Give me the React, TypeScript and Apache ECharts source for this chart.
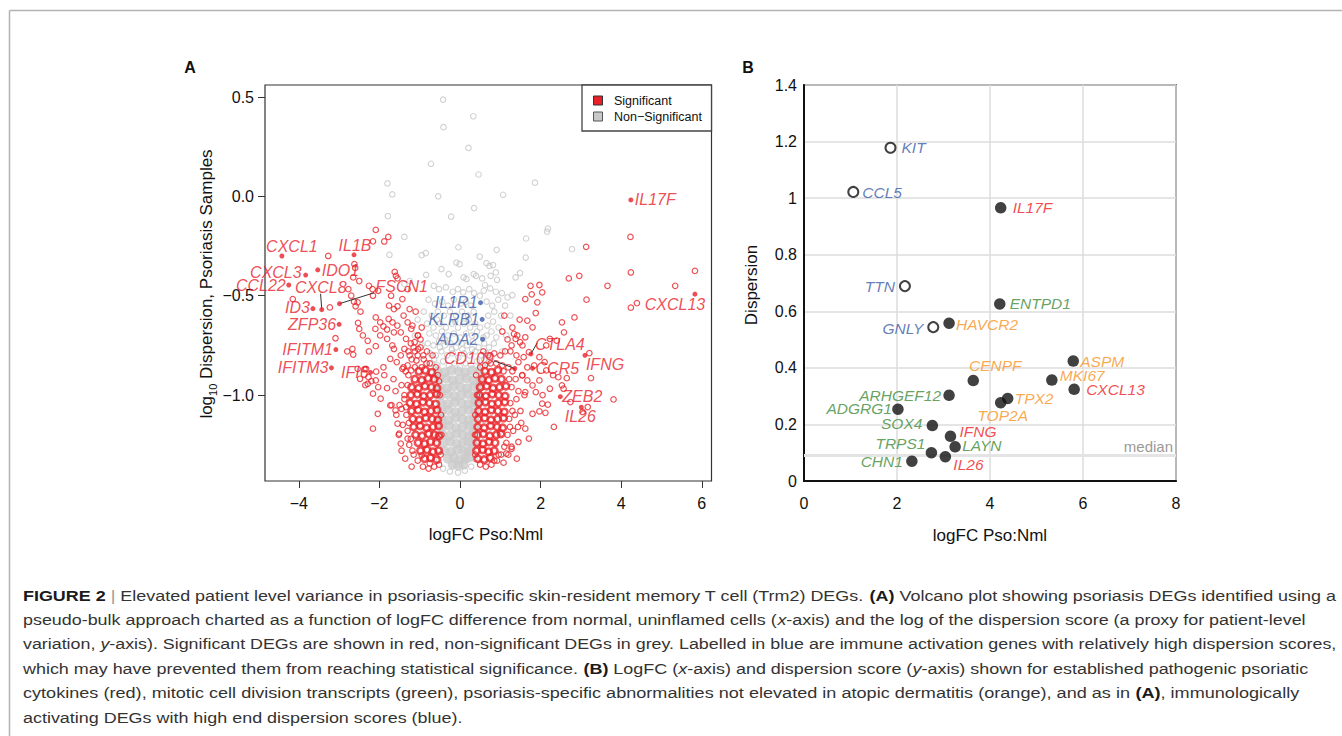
import React, { useEffect, useRef } from "react";
import * as echarts from "echarts";

const FONT = "'Liberation Sans', Arial, Helvetica, sans-serif";
const CAP_FONT = "'Liberation Sans', Arial, Helvetica, sans-serif";

// ---------------- Panel A data ----------------
const A_X_TICKS = [-4, -2, 0, 2, 4, 6];
const A_Y_TICKS = [-1, -0.5, 0, 0.5];

// non-significant genes, sparse (hollow grey)
const A_NS_SPARSE: number[][] = [
  [-0.42, 0.487], [0.33, 0.403], [-0.41, 0.348], [0.21, 0.244], [-0.72, 0.164], [0.46, 0.11], [-1.8, 0.065],
  [1.86, 0.069], [-1.68, 0.01], [-0.54, 0.0], [1.07, 0.008], [0.35, -0.059], [-1.79, -0.099], [-0.22, -0.102],
  [-1.38, -0.204], [2.18, -0.162], [2.16, -0.177], [1.64, -0.212], [-1.75, -0.294], [2.78, -0.266], [-0.95, -0.296],
  [-0.85, -0.286], [-0.04, -0.256], [0.91, -0.269], [1.63, -0.308], [0.49, -0.303], [-0.09, -0.333], [-0.01, -0.341],
  [0.66, -0.336], [0.73, -0.35], [0.82, -0.346], [-0.46, -0.366], [-0.28, -0.391], [-0.84, -0.395], [0.09, -0.408],
  [0.16, -0.416], [0.34, -0.391], [0.4, -0.4], [0.55, -0.413], [0.76, -0.4], [0.89, -0.383], [0.92, -0.42],
  [0.62, -0.446], [1.38, -0.408], [1.49, -0.386], [-1.38, -0.441], [-1.25, -0.426], [-0.65, -0.45], [-0.52, -0.467],
  [-0.35, -0.458], [-0.18, -0.48], [-0.05, -0.467], [0.08, -0.483], [0.23, -0.467], [0.35, -0.487], [0.49, -0.5],
  [0.59, -0.475], [0.75, -0.463], [0.89, -0.48], [1.04, -0.487], [1.18, -0.508], [1.3, -0.497],
  [-0.78, -0.52], [-0.62, -0.54], [-0.44, -0.53], [-0.3, -0.55], [-0.15, -0.52], [0.02, -0.54], [0.15, -0.53],
  [0.28, -0.55], [0.66, -0.53], [0.8, -0.55], [0.95, -0.52], [1.12, -0.55],
  [-0.9, -0.58], [-0.7, -0.6], [-0.55, -0.58], [-0.4, -0.6], [-0.25, -0.58], [-0.1, -0.6], [0.05, -0.58],
  [0.2, -0.6], [0.34, -0.58], [0.7, -0.6], [0.85, -0.58], [1.02, -0.6],
  [-0.82, -0.64], [-0.66, -0.66], [-0.5, -0.64], [-0.35, -0.66], [-0.2, -0.64], [-0.05, -0.66], [0.1, -0.64],
  [0.25, -0.66], [0.38, -0.64], [0.68, -0.65], [0.82, -0.63], [0.96, -0.66],
  [-0.76, -0.69], [-0.6, -0.7], [-0.45, -0.68], [-0.3, -0.7], [-0.15, -0.69], [0.0, -0.71], [0.15, -0.69],
  [0.3, -0.7], [0.42, -0.68], [0.66, -0.7], [0.78, -0.68], [0.9, -0.71],
  [-0.8, -0.74], [-0.66, -0.75], [-0.52, -0.73], [-0.38, -0.75], [-0.24, -0.74], [-0.1, -0.76], [0.04, -0.74],
  [0.18, -0.75], [0.32, -0.73], [0.46, -0.76], [0.6, -0.74], [0.72, -0.76], [0.84, -0.74],
  [-0.74, -0.79], [-0.6, -0.8], [-0.46, -0.78], [-0.32, -0.8], [-0.18, -0.79], [-0.04, -0.81], [0.1, -0.79],
  [0.24, -0.8], [0.38, -0.78], [0.52, -0.8], [0.66, -0.79], [0.78, -0.81],
  [-0.7, -0.84], [-0.56, -0.85], [-0.42, -0.83], [-0.28, -0.85], [-0.14, -0.84], [0.0, -0.86], [0.14, -0.84],
  [0.28, -0.85], [0.42, -0.83], [0.56, -0.85], [0.68, -0.84],
  [-0.57, -0.62], [-0.12, -0.63], [0.22, -0.62], [0.5, -0.66], [0.58, -0.71], [-0.38, -0.72], [0.06, -0.77],
  [-0.64, -0.82], [0.6, -0.82], [0.3, -0.77], [-0.2, -0.77], [-0.5, -0.76], [1.25, -0.6], [1.15, -0.7],
  [-1.05, -0.62], [-1.12, -0.7], [-0.95, -0.75], [1.05, -0.78],
  [-0.42, -1.37], [-0.25, -1.385], [-0.05, -1.39], [0.12, -1.38], [0.28, -1.36], [-0.52, -1.33], [0.36, -1.32],
  [-0.62, -0.9], [0.64, -0.9], [-0.6, -1.0], [0.55, -1.02], [-0.58, -1.12], [0.5, -1.14], [-0.56, -1.22], [0.45, -1.24],
];

// non-significant genes, dense core (filled grey)
const A_NS_CORE: number[][] = [
  [-0.55, -0.88], [-0.38, -0.885], [-0.21, -0.875], [-0.04, -0.88], [0.13, -0.885], [0.3, -0.875], [0.47, -0.88],
  [-0.52, -0.92], [-0.35, -0.915], [-0.18, -0.925], [-0.01, -0.92], [0.16, -0.915], [0.33, -0.925], [0.5, -0.92],
  [-0.5, -0.96], [-0.33, -0.965], [-0.16, -0.955], [0.01, -0.96], [0.18, -0.965], [0.35, -0.955], [0.48, -0.96],
  [-0.48, -1.0], [-0.31, -0.995], [-0.14, -1.005], [0.03, -1.0], [0.2, -0.995], [0.36, -1.005], [0.45, -1.0],
  [-0.47, -1.04], [-0.3, -1.045], [-0.13, -1.035], [0.04, -1.04], [0.21, -1.045], [0.36, -1.035], [0.44, -1.04],
  [-0.46, -1.08], [-0.29, -1.075], [-0.12, -1.085], [0.05, -1.08], [0.22, -1.075], [0.37, -1.085],
  [-0.45, -1.12], [-0.28, -1.125], [-0.11, -1.115], [0.06, -1.12], [0.22, -1.125], [0.36, -1.115],
  [-0.44, -1.16], [-0.27, -1.155], [-0.1, -1.165], [0.07, -1.16], [0.22, -1.155], [0.35, -1.165],
  [-0.43, -1.2], [-0.26, -1.205], [-0.09, -1.195], [0.07, -1.2], [0.22, -1.205], [0.33, -1.195],
  [-0.41, -1.24], [-0.24, -1.235], [-0.08, -1.245], [0.07, -1.24], [0.21, -1.235], [0.32, -1.245],
  [-0.38, -1.28], [-0.22, -1.285], [-0.06, -1.275], [0.08, -1.28], [0.2, -1.285], [0.28, -1.275],
  [-0.3, -1.32], [-0.15, -1.315], [-0.01, -1.325], [0.13, -1.32], [0.22, -1.315],
  [-0.18, -1.35], [-0.04, -1.355], [0.09, -1.35],
];

// significant genes, sparse (hollow red)
const A_SIG_SPARSE: number[][] = [
  [-2.09, -0.169], [-2.16, -0.226], [-1.88, -0.227], [-1.78, -0.204], [-3.27, -0.3], [-2.62, -0.341], [-2.65, -0.408],
  [-2.5, -0.426], [-2.77, -0.467], [-2.7, -0.5], [-3.23, -0.559], [-4.15, -0.517], [-1.62, -0.38], [-1.59, -0.4],
  [-1.55, -0.413], [-2.26, -0.45], [-2.17, -0.467], [-2.16, -0.5], [-2.03, -0.475], [-2.63, -0.53], [-2.59, -0.553],
  [-2.47, -0.58], [-2.54, -0.533], [-1.71, -0.5], [-1.76, -0.55], [-1.55, -0.553], [-2.09, -0.609], [-1.98, -0.634],
  [-2.1, -0.667], [-1.9, -0.654], [-1.77, -0.617], [-2.53, -0.637], [-2.5, -0.667], [-2.41, -0.7], [-3.09, -0.714],
  [-2.29, -0.727], [-2.26, -0.78], [-2.09, -0.754], [-1.98, -0.7], [-1.81, -0.67], [-2.8, -0.78], [-2.67, -0.768],
  [-2.65, -0.796], [-2.54, -0.868], [-2.33, -0.868], [-2.48, -0.918], [-2.29, -0.943], [-2.09, -0.926], [-2.03, -0.96],
  [-2.16, -0.993], [-1.97, -1.018], [-1.81, -0.965], [-2.04, -1.094], [-2.16, -1.169], [-1.9, -0.86], [-1.73, -0.818],
  [-1.64, -0.768], [-1.88, -0.9], [-1.55, -1.144], [-1.51, -1.194], [-1.47, -1.244], [-1.3, -1.219], [-1.73, -1.052],
  [-1.6, -1.077], [-1.45, -1.069], [-1.38, -1.0], [-0.75, -1.344], [-0.95, -1.303], [-1.675, -0.634], [-1.555, -0.65],
  [-1.4, -0.6], [-1.3, -0.634], [-1.47, -0.684], [-1.34, -0.717], [-1.21, -0.667], [-1.125, -0.734], [-1.04, -0.7],
  [-1.64, -0.684], [-1.81, -0.717], [-1.68, -0.75], [-1.38, -0.768], [-1.25, -0.8], [-1.04, -0.768], [-0.91, -0.8],
  [-1.47, -0.8], [-1.57, -0.834], [-1.43, -0.868], [-1.3, -0.851], [-1.21, -0.876], [-1.08, -0.826], [-0.95, -0.86],
  [-1.3, -0.467], [-1.43, -0.517], [-1.25, -0.567], [-1.64, -0.567], [-2.37, -0.87], [-2.27, -0.91], [-2.35, -0.95],
  [-2.2, -0.93], [-2.08, -0.882], [-2.6, -0.36],
  [-1.1, -0.58], [-1.18, -0.65], [-1.05, -0.7], [-0.95, -0.66], [-1.22, -0.74], [-1.12, -0.78], [-0.98, -0.72],
  [-1.35, -0.88], [-1.3, -0.95], [-1.38, -1.02], [-1.33, -1.1], [-1.3, -1.18], [-1.26, -1.25], [-1.15, -1.3],
  [-1.05, -1.33], [-0.92, -1.36], [-0.78, -1.37], [-0.64, -1.36], [-0.52, -1.35], [-1.45, -0.95], [-1.5, -1.05],
  [-1.42, -1.15], [-1.4, -0.86], [-1.2, -0.82], [-1.05, -0.8], [-0.9, -0.82], [-0.75, -0.84], [-0.6, -0.86],
  [-0.55, -0.9], [-1.28, -0.78], [-0.98, -0.76], [-0.82, -0.78], [-0.68, -0.8], [-1.15, -0.76], [-1.6, -0.98],
  [-1.58, -1.1], [-1.52, -1.2], [-1.45, -1.28], [-1.36, -1.32], [-1.7, -1.05], [-1.65, -0.92], [-1.2, -1.36],
  [-0.48, -1.3], [-0.46, -1.2], [-0.47, -1.1], [-0.5, -1.0], [-0.52, -0.93],
  [-1.28, -0.9], [-1.34, -1.06], [-1.27, -1.14], [-1.22, -1.22], [-1.12, -0.86], [-0.83, -0.84], [-1.18, -1.28],
  [4.23, -0.204], [4.24, -0.383], [4.24, -0.56], [4.39, -0.537], [5.83, -0.375], [5.34, -0.45], [3.66, -0.45],
  [3.13, -0.254], [2.96, -0.4], [2.7, -0.413], [3.14, -0.52], [2.84, -0.609], [2.53, -0.634], [2.58, -0.684],
  [1.75, -0.45], [1.97, -0.446], [1.78, -0.493], [2.04, -0.483], [1.62, -0.517], [1.92, -0.533], [1.88, -0.587],
  [1.67, -0.625], [1.8, -0.659], [1.62, -0.709], [2.23, -0.717], [2.4, -0.726], [2.14, -0.75], [3.21, -0.789],
  [3.25, -0.915], [3.81, -1.022], [2.14, -0.876], [2.31, -0.9], [2.44, -0.91], [2.65, -0.915], [1.97, -0.926],
  [2.23, -0.968], [2.53, -0.951], [2.57, -0.968], [2.04, -1.043], [2.18, -1.048], [1.97, -1.082], [2.12, -1.089],
  [2.33, -1.16], [1.8, -1.094], [1.62, -1.169], [1.45, -1.236], [1.71, -1.219], [3.17, -1.06], [3.04, -1.085],
  [2.74, -1.035], [1.41, -1.32], [1.28, -1.27], [1.15, -1.294], [1.45, -0.834], [1.58, -0.809], [1.67, -0.86],
  [1.71, -0.784], [1.84, -0.851], [1.97, -0.809], [2.1, -0.834], [1.54, -0.901], [1.67, -0.926], [1.8, -0.951],
  [1.62, -0.985], [1.88, -0.985], [2.05, -1.0], [1.34, -0.692], [1.38, -0.717], [1.49, -0.734], [1.28, -0.75],
  [1.05, -0.68], [1.18, -0.72], [1.3, -0.66], [1.42, -0.7], [1.25, -0.78], [1.4, -0.8], [1.48, -0.62], [1.55, -0.75], [1.1, -0.6],
  [0.4, -0.9], [0.42, -1.0], [0.38, -1.1], [0.37, -1.2], [0.38, -1.3], [0.5, -1.35], [0.64, -1.36], [0.78, -1.35],
  [0.92, -1.33], [1.02, -1.3], [1.1, -1.26], [1.18, -1.2], [1.22, -1.12], [1.25, -1.04], [1.28, -0.96], [1.3, -0.88],
  [1.2, -0.86], [1.05, -0.85], [0.9, -0.84], [0.76, -0.84], [0.62, -0.85], [0.5, -0.86], [1.38, -0.92], [1.4, -1.02],
  [1.36, -1.1], [1.32, -1.18], [1.28, -1.26], [1.45, -0.98], [1.5, -1.08], [1.44, -1.16], [1.55, -0.9], [0.7, -0.8],
  [0.85, -0.79], [1.0, -0.8], [1.12, -0.78], [0.58, -0.78], [1.6, -1.0], [1.52, -1.14], [1.2, -1.3], [1.08, -1.34],
  [1.22, -0.92], [1.3, -1.08], [1.24, -1.16], [1.15, -1.24], [1.08, -0.88], [0.96, -1.3], [0.85, -1.33],
];

// significant genes, dense cores (thick red rings)
const A_SIG_CORE: number[][] = [
  [-1.02, -0.88], [-0.86, -0.875], [-0.7, -0.885],
  [-1.12, -0.92], [-0.95, -0.925], [-0.79, -0.915], [-0.64, -0.92],
  [-1.2, -0.96], [-1.03, -0.965], [-0.87, -0.955], [-0.71, -0.96], [-0.57, -0.965],
  [-1.22, -1.0], [-1.06, -0.995], [-0.9, -1.005], [-0.74, -1.0], [-0.58, -0.995],
  [-1.24, -1.04], [-1.08, -1.045], [-0.92, -1.035], [-0.76, -1.04], [-0.6, -1.045],
  [-1.2, -1.08], [-1.04, -1.075], [-0.88, -1.085], [-0.72, -1.08], [-0.57, -1.075],
  [-1.17, -1.12], [-1.01, -1.125], [-0.85, -1.115], [-0.69, -1.12], [-0.55, -1.125],
  [-1.15, -1.16], [-0.99, -1.155], [-0.83, -1.165], [-0.67, -1.16], [-0.53, -1.155],
  [-1.1, -1.2], [-0.94, -1.205], [-0.78, -1.195], [-0.63, -1.2], [-0.52, -1.205],
  [-1.04, -1.24], [-0.88, -1.245], [-0.73, -1.235], [-0.58, -1.24],
  [-0.98, -1.28], [-0.82, -1.275], [-0.67, -1.285], [-0.53, -1.28],
  [-0.88, -1.32], [-0.73, -1.315], [-0.58, -1.325],
  [0.62, -0.88], [0.78, -0.885], [0.94, -0.875],
  [0.55, -0.92], [0.71, -0.925], [0.87, -0.915], [1.03, -0.92],
  [0.5, -0.96], [0.66, -0.955], [0.82, -0.965], [0.98, -0.96], [1.14, -0.955],
  [0.48, -1.0], [0.64, -1.005], [0.8, -0.995], [0.96, -1.0], [1.12, -1.005],
  [0.47, -1.04], [0.63, -1.035], [0.79, -1.045], [0.95, -1.04], [1.11, -1.035],
  [0.46, -1.08], [0.62, -1.085], [0.78, -1.075], [0.94, -1.08], [1.1, -1.085],
  [0.45, -1.12], [0.61, -1.115], [0.77, -1.125], [0.93, -1.12], [1.08, -1.115],
  [0.44, -1.16], [0.6, -1.165], [0.76, -1.155], [0.92, -1.16], [1.06, -1.165],
  [0.43, -1.2], [0.58, -1.195], [0.74, -1.205], [0.9, -1.2], [1.02, -1.195],
  [0.42, -1.24], [0.57, -1.245], [0.72, -1.235], [0.87, -1.24],
  [0.41, -1.28], [0.56, -1.275], [0.71, -1.285], [0.85, -1.28],
  [0.44, -1.32], [0.6, -1.325], [0.75, -1.315],
];

// labelled genes: name, logFC, log10 dispersion, kind
const A_GENES: [string, number, number, string][] = [
  ["CXCL1", -4.42, -0.3, "sig"], ["IL1B", -2.63, -0.294, "sig"], ["CXCL3", -3.83, -0.396, "sig"],
  ["IDO1", -3.53, -0.37, "sig"], ["CCL22", -4.25, -0.446, "sig"], ["CXCL8", -3.43, -0.57, "sig"],
  ["ID3", -3.65, -0.565, "sig"], ["FSCN1", -2.99, -0.54, "sig"], ["ZFP36", -3.0, -0.644, "sig"],
  ["IFITM1", -3.08, -0.771, "sig"], ["IFITM3", -3.19, -0.863, "sig"], ["IFI6", -2.22, -0.886, "sig"],
  ["IL17F", 4.24, -0.018, "sig"], ["CXCL13", 5.83, -0.492, "sig"], ["IL1R1", 0.51, -0.535, "immune"],
  ["KLRB1", 0.55, -0.619, "immune"], ["ADA2", 0.56, -0.719, "immune"], ["CD109", 1.36, -0.866, "sig"],
  ["CTLA4", 1.76, -0.793, "sig"], ["CCR5", 1.8, -0.865, "sig"], ["IFNG", 3.1, -0.8, "sig"],
  ["ZEB2", 2.49, -1.008, "sig"], ["IL26", 3.01, -1.061, "sig"],
];

// label placement: align, dx, dy (pixels from the point)
const A_LABEL_LAYOUT: Record<string, [string, number, number]> = {
  CXCL1: ["center", 10, -9], IL1B: ["center", 1, -9], CXCL3: ["right", -4, -3], IDO1: ["left", 4, 1],
  CCL22: ["right", -3, 1], CXCL8: ["center", -1, -22], ID3: ["right", -3, -1], FSCN1: ["left", 36, -17],
  ZFP36: ["right", -3, 0], IFITM1: ["right", -3, 0], IFITM3: ["right", -3, 0], IFI6: ["right", -2, 0],
  IL17F: ["left", 4, 0], CXCL13: ["center", -20, 10], IL1R1: ["right", -3, 0], KLRB1: ["right", -3, 0],
  ADA2: ["right", -4, 0], CD109: ["right", -21, -10], CTLA4: ["left", 4, -9], CCR5: ["left", 3, 0],
  IFNG: ["left", 1, 9], ZEB2: ["left", 2, 0], IL26: ["center", -1, 9],
};

// leader lines: from point to label (data coordinates)
const A_LEADERS: [number, number, number, number][] = [
  [-3.43, -0.57, -3.46, -0.49],
  [-2.99, -0.54, -2.13, -0.485],
  [1.36, -0.866, 0.84, -0.827],
  [1.76, -0.793, 1.92, -0.736],
];

const A_LEGEND = ["Significant", "Non\u2212Significant"];

// ---------------- Panel B data ----------------
// name, logFC, dispersion, category, open marker
const B_GENES: [string, number, number, string, boolean][] = [
  ["KIT", 1.86, 1.178, "immune", true], ["CCL5", 1.06, 1.022, "immune", true],
  ["IL17F", 4.23, 0.966, "cytokine", false], ["TTN", 2.17, 0.689, "immune", true],
  ["ENTPD1", 4.21, 0.626, "mitotic", false], ["GNLY", 2.78, 0.544, "immune", true],
  ["HAVCR2", 3.12, 0.558, "psoriasis", false], ["ASPM", 5.79, 0.424, "psoriasis", false],
  ["CENPF", 3.64, 0.355, "psoriasis", false], ["MKI67", 5.33, 0.357, "psoriasis", false],
  ["CXCL13", 5.81, 0.324, "cytokine", false], ["ARHGEF12", 3.12, 0.303, "mitotic", false],
  ["TPX2", 4.38, 0.292, "psoriasis", false], ["TOP2A", 4.23, 0.277, "psoriasis", false],
  ["ADGRG1", 2.02, 0.254, "mitotic", false], ["SOX4", 2.76, 0.196, "mitotic", false],
  ["IFNG", 3.15, 0.158, "cytokine", false], ["LAYN", 3.25, 0.121, "mitotic", false],
  ["TRPS1", 2.74, 0.1, "mitotic", false], ["IL26", 3.04, 0.086, "cytokine", false],
  ["CHN1", 2.32, 0.07, "mitotic", false],
];

const B_LABEL_LAYOUT: Record<string, [string, number, number]> = {
  KIT: ["left", 11, 0], CCL5: ["left", 9, 1], IL17F: ["left", 12, 0], TTN: ["right", -10, 0],
  ENTPD1: ["left", 10, 0], GNLY: ["right", -10, 1], HAVCR2: ["left", 7, 1], ASPM: ["left", 7, 0],
  CENPF: ["center", 22, -15], MKI67: ["left", 8, -5], CXCL13: ["left", 12, 0], ARHGEF12: ["right", -8, 0],
  TPX2: ["left", 7, 0], TOP2A: ["center", 2, 13], ADGRG1: ["right", -6, -1], SOX4: ["right", -10, -2],
  IFNG: ["left", 9, -5], LAYN: ["left", 7, -1], TRPS1: ["right", -6, -9], IL26: ["left", 8, 8],
  CHN1: ["right", -9, 0],
};

const B_MEDIAN = 0.086;

const COLORS: Record<string, string> = {
  sig: "#e8202a",
  immune: "#3b5ca8",
  cytokine: "#ee1c25",
  mitotic: "#3d8a37",
  psoriasis: "#f7931e",
};

// caption lines (rich markup)
const CAPTION_LINES = [
  "{b|FIGURE 2} {sep||} Elevated patient level variance in psoriasis-specific skin-resident memory T cell (Trm2) DEGs. {b|(A)} Volcano plot showing psoriasis DEGs identified using a",
  "pseudo-bulk approach charted as a function of logFC difference from normal, uninflamed cells ({i|x}-axis) and the log of the dispersion score (a proxy for patient-level",
  "variation, {i|y}-axis). Significant DEGs are shown in red, non-significant DEGs in grey. Labelled in blue are immune activation genes with relatively high dispersion scores,",
  "which may have prevented them from reaching statistical significance. {b|(B)} LogFC ({i|x}-axis) and dispersion score ({i|y}-axis) shown for established pathogenic psoriatic",
  "cytokines (red), mitotic cell division transcripts (green), psoriasis-specific abnormalities not elevated in atopic dermatitis (orange), and as in {b|(A)}, immunologically",
  "activating DEGs with high end dispersion scores (blue).",
];
// right edge of each caption line in the reference (0 = use the mean stretch)
const CAPTION_RIGHT = [1336, 1306, 1337, 1308, 1299, 0];

function minus(s: string) {
  return s.replace("-", "\u2212");
}

function makeLabel(layout: [string, number, number], color: string, size: number) {
  const [align, dx, dy] = layout;
  return {
    show: true,
    position: "inside",
    align,
    verticalAlign: "middle",
    offset: [dx, dy],
    color,
    fontSize: size,
    fontStyle: "italic",
    fontFamily: FONT,
    textBorderWidth: 0,
    formatter: "{b}",
  };
}

const CAP_FS = 15.3;

function captionFont(style: string) {
  return (style === "b" ? "bold " : "") + (style === "i" ? "italic " : "") + CAP_FS + "px " + CAP_FONT;
}

function measureLine(ctx: CanvasRenderingContext2D | null, line: string) {
  const re = /\{(\w+)\|([^}]*)\}|([^{]+)/g;
  let w = 0;
  let m: RegExpExecArray | null;
  while ((m = re.exec(line))) {
    const style = m[1] || "";
    const txt = m[1] ? m[2] : m[3];
    if (ctx) {
      ctx.font = captionFont(style);
      w += ctx.measureText(txt).width;
    } else {
      w += txt.length * CAP_FS * 0.5;
    }
  }
  return w;
}

function buildCaption(): any[] {
  const canvas = document.createElement("canvas");
  const ctx = canvas.getContext("2d");
  const rich = {
    b: { fontWeight: "bold", fontSize: CAP_FS, fontFamily: CAP_FONT, fill: "#1a1a1a", color: "#1a1a1a" },
    i: { fontStyle: "italic", fontSize: CAP_FS, fontFamily: CAP_FONT, fill: "#333", color: "#333" },
    sep: { fontSize: CAP_FS, fontFamily: CAP_FONT, fill: "#9a9a9a", color: "#9a9a9a" },
  };
  const left = 23;
  const widths = CAPTION_LINES.map((l) => measureLine(ctx, l));
  const scales = widths.map((w, i) => (CAPTION_RIGHT[i] > 0 ? (CAPTION_RIGHT[i] - left) / w : 0));
  const used = scales.filter((s) => s > 0);
  const mean = used.reduce((a, b) => a + b, 0) / used.length;
  return CAPTION_LINES.map((line, i) => ({
    type: "text",
    x: left,
    y: 595.5 + i * 24.45,
    scaleX: scales[i] > 0 ? scales[i] : mean,
    style: { text: line, fontSize: CAP_FS, fontFamily: CAP_FONT, fill: "#333", align: "left", verticalAlign: "middle", rich },
  }));
}

function buildOption() {
  const graphic: any[] = [
    { type: "line", shape: { x1: 9.5, y1: 10.5, x2: 1342, y2: 10.5 }, style: { stroke: "#b3b3b3", lineWidth: 1.5 } },
    { type: "line", shape: { x1: 9.5, y1: 10.5, x2: 9.5, y2: 736 }, style: { stroke: "#b3b3b3", lineWidth: 1.5 } },
    { type: "text", x: 190, y: 67, style: { text: "A", fontSize: 16, fontWeight: "bold", fontFamily: FONT, fill: "#111", align: "center", verticalAlign: "middle" } },
    { type: "text", x: 748, y: 67, style: { text: "B", fontSize: 16, fontWeight: "bold", fontFamily: FONT, fill: "#111", align: "center", verticalAlign: "middle" } },
    { type: "text", x: 486, y: 534, style: { text: "logFC Pso:Nml", fontSize: 17, fontFamily: FONT, fill: "#111", align: "center", verticalAlign: "middle" } },
    { type: "text", x: 990, y: 535, style: { text: "logFC Pso:Nml", fontSize: 17, fontFamily: FONT, fill: "#111", align: "center", verticalAlign: "middle" } },
    {
      type: "text", x: 206, y: 284, rotation: Math.PI / 2,
      style: {
        text: "log{sub|10} Dispersion, Psoriasis Samples", fontSize: 17, fontFamily: FONT, fill: "#111",
        align: "center", verticalAlign: "middle", lineHeight: 24,
        rich: { sub: { fontSize: 11, fontFamily: FONT, fill: "#111", verticalAlign: "bottom", lineHeight: 12 } },
      },
    },
    { type: "text", x: 751, y: 285, rotation: Math.PI / 2, style: { text: "Dispersion", fontSize: 17, fontFamily: FONT, fill: "#111", align: "center", verticalAlign: "middle" } },
    // legend of panel A
    { type: "rect", shape: { x: 582, y: 85, width: 129.5, height: 46 }, style: { fill: "#fff", stroke: "#444", lineWidth: 1.3 } },
    { type: "rect", shape: { x: 593.5, y: 96, width: 9, height: 9 }, style: { fill: COLORS.sig, stroke: "#333", lineWidth: 1 } },
    { type: "rect", shape: { x: 593.5, y: 112, width: 9, height: 9 }, style: { fill: "#c8c8c8", stroke: "#555", lineWidth: 1 } },
    { type: "text", x: 614, y: 100.5, style: { text: A_LEGEND[0], fontSize: 12.5, fontFamily: FONT, fill: "#111", verticalAlign: "middle" } },
    { type: "text", x: 614, y: 116.5, style: { text: A_LEGEND[1], fontSize: 12.5, fontFamily: FONT, fill: "#111", verticalAlign: "middle" } },
    ...buildCaption(),
  ];

  const hollow = (color: string, w: number) => ({ color: "rgba(0,0,0,0)", borderColor: color, borderWidth: w });

  const series: any[] = [
    {
      type: "scatter", xAxisIndex: 0, yAxisIndex: 0, data: A_NS_SPARSE, symbol: "circle", symbolSize: 5.5,
      itemStyle: hollow("#c4c4c4", 1.1), silent: true, z: 2,
    },
    {
      type: "scatter", xAxisIndex: 0, yAxisIndex: 0, data: A_NS_CORE, symbol: "circle", symbolSize: 10,
      itemStyle: { color: "#cacaca" }, silent: true, z: 2,
    },
    {
      type: "scatter", xAxisIndex: 0, yAxisIndex: 0, data: A_SIG_CORE, symbol: "circle", symbolSize: 6.5,
      itemStyle: hollow("#e8262b", 2.6), silent: true, z: 3,
    },
    {
      type: "scatter", xAxisIndex: 0, yAxisIndex: 0, data: A_SIG_SPARSE, symbol: "circle", symbolSize: 5.5,
      itemStyle: hollow("#e8262b", 1.2), silent: true, z: 3,
    },
    {
      type: "lines", coordinateSystem: "cartesian2d", xAxisIndex: 0, yAxisIndex: 0, silent: true, z: 4,
      lineStyle: { color: "#333", width: 1, opacity: 1 },
      data: A_LEADERS.map(([x1, y1, x2, y2]) => ({ coords: [[x1, y1], [x2, y2]] })),
    },
    {
      type: "scatter", xAxisIndex: 0, yAxisIndex: 0, symbol: "circle", symbolSize: 5, z: 5,
      data: A_GENES.map(([name, x, y, kind]) => ({
        name, value: [x, y],
        itemStyle: { color: COLORS[kind] },
        label: makeLabel(A_LABEL_LAYOUT[name], COLORS[kind], 16),
      })),
    },
    {
      type: "scatter", xAxisIndex: 1, yAxisIndex: 1, symbol: "circle", z: 5,
      data: B_GENES.map(([name, x, y, cat, open]) => ({
        name, value: [x, y],
        symbolSize: open ? 10 : 11.5,
        itemStyle: open ? { color: "#fff", borderColor: "#111", borderWidth: 2 } : { color: "#111" },
        label: makeLabel(B_LABEL_LAYOUT[name], COLORS[cat], 15.5),
      })),
      markLine: {
        silent: true, symbol: ["none", "none"], animation: false,
        lineStyle: { color: "#e4e4e4", width: 3, type: "solid" },
        label: { show: true, position: "insideEndTop", formatter: "median", color: "#9a9a9a", fontSize: 15, fontFamily: FONT, distance: [3, 2] },
        data: [{ yAxis: B_MEDIAN }],
      },
    },
  ];

  const tickLabel = { fontSize: 16, fontFamily: FONT, color: "#111" };

  return {
    animation: false,
    backgroundColor: "#fff",
    grid: [
      { left: 265, top: 85, width: 446.5, height: 396, show: true, borderColor: "#333", borderWidth: 1.2, backgroundColor: "transparent" },
      { left: 804, top: 85, width: 372, height: 396, show: true, borderColor: "#111", borderWidth: 1.5, backgroundColor: "transparent" },
    ],
    xAxis: [
      {
        gridIndex: 0, type: "value", min: -4.839, max: 6.241, position: "bottom",
        axisLine: { show: false, onZero: false }, splitLine: { show: false },
        axisTick: { show: true, length: 7, customValues: A_X_TICKS, lineStyle: { color: "#333" } },
        axisLabel: { ...tickLabel, margin: 14, customValues: A_X_TICKS, formatter: (v: number) => minus(String(v)) },
      },
      {
        gridIndex: 1, type: "value", min: 0, max: 8, interval: 2, position: "bottom",
        axisLine: { show: true, onZero: false, lineStyle: { color: "#111", width: 2 } },
        axisTick: { show: false },
        splitLine: { show: true, lineStyle: { color: "#dcdcdc", width: 1.5 } },
        axisLabel: { ...tickLabel, margin: 14 },
      },
    ],
    yAxis: [
      {
        gridIndex: 0, type: "value", min: -1.4323, max: 0.5604, position: "left",
        axisLine: { show: false, onZero: false }, splitLine: { show: false },
        axisTick: { show: true, length: 7, customValues: A_Y_TICKS, lineStyle: { color: "#333" } },
        axisLabel: { ...tickLabel, margin: 11, customValues: A_Y_TICKS, formatter: (v: number) => minus(v.toFixed(1)) },
      },
      {
        gridIndex: 1, type: "value", min: 0, max: 1.4, interval: 0.2, position: "left",
        axisLine: { show: true, onZero: false, lineStyle: { color: "#111", width: 2 } },
        axisTick: { show: false },
        splitLine: { show: true, lineStyle: { color: "#dcdcdc", width: 1.5 } },
        axisLabel: { ...tickLabel, margin: 7 },
      },
    ],
    graphic,
    series,
  };
}

export default function App() {
  const ref = useRef<HTMLDivElement>(null);
  useEffect(() => {
    if (!ref.current) return;
    const chart = echarts.init(ref.current, null, { renderer: "svg" });
    chart.setOption(buildOption() as any);
    return () => chart.dispose();
  }, []);
  return (
    <div
      ref={ref}
      style={{ position: "absolute", left: 0, top: 0, width: 1342, height: 736, background: "#fff" }}
    />
  );
}
